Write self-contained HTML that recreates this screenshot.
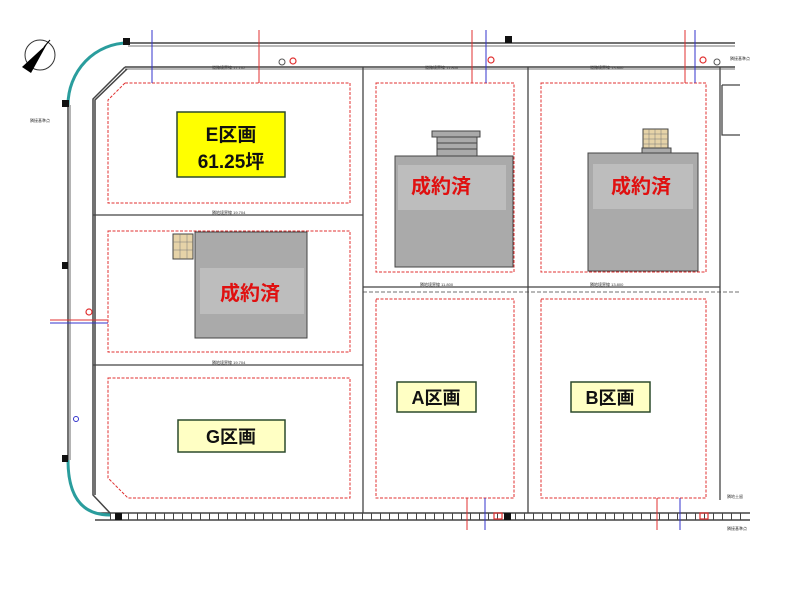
<!DOCTYPE html>
<html><head><meta charset="utf-8"><style>
html,body{margin:0;padding:0;background:#fff;width:800px;height:600px;overflow:hidden}
svg{display:block}
.t{font-family:"Liberation Sans","Noto Sans CJK JP",sans-serif;font-weight:bold}
</style></head><body>
<svg width="800" height="600" viewBox="0 0 800 600" xmlns="http://www.w3.org/2000/svg">
<!-- compass -->
<circle cx="40" cy="55" r="15" fill="#fff" stroke="#333" stroke-width="1"/>
<polygon points="22,67 47,44 31,73" fill="#000"/>
<line x1="44" y1="47" x2="50" y2="40" stroke="#000"/>
<!-- outer road lines -->
<g fill="none" stroke="#444" stroke-width="1.5">
<line x1="128" y1="43" x2="735" y2="43"/>
<line x1="128" y1="46" x2="735" y2="46" stroke-width="0.8"/>
<line x1="125" y1="67" x2="735" y2="67"/>
<line x1="125" y1="69" x2="735" y2="69" stroke-width="0.8"/>
<polyline points="125,67 93,99 93,495 110,513"/>
<polyline points="127,69 95,100 95,495"/>
<line x1="68" y1="105" x2="68" y2="460"/>
<line x1="70" y1="105" x2="70" y2="460" stroke-width="0.8"/>
<line x1="95" y1="513" x2="750" y2="513"/>
<line x1="95" y1="520" x2="750" y2="520"/>
</g>
<line x1="110" y1="516.5" x2="745" y2="516.5" stroke="#444" stroke-width="7" stroke-dasharray="1 8"/>
<!-- teal curves -->
<path d="M68,105 A60,62 0 0 1 128,43" fill="none" stroke="#2a9d9d" stroke-width="3"/>
<path d="M68,460 Q68,515 110,515" fill="none" stroke="#2a9d9d" stroke-width="3"/>
<rect x="123" y="38" width="7" height="7" fill="#111"/>
<rect x="62" y="100" width="7" height="7" fill="#111"/>
<rect x="62" y="262" width="6" height="7" fill="#111"/>
<rect x="62" y="455" width="6" height="7" fill="#111"/>
<rect x="115" y="513" width="7" height="7" fill="#111"/>
<rect x="505" y="36" width="7" height="7" fill="#111"/>
<rect x="504" y="513" width="7" height="7" fill="#111"/>
<!-- lot dividers -->
<g stroke="#444" stroke-width="1.3" fill="none">
<line x1="363" y1="67" x2="363" y2="513"/>
<line x1="528" y1="67" x2="528" y2="513"/>
<line x1="720" y1="67" x2="720" y2="500"/>
<line x1="93" y1="215" x2="363" y2="215"/>
<line x1="93" y1="365" x2="363" y2="365"/>
<line x1="363" y1="287" x2="720" y2="287"/>
<line x1="363" y1="292" x2="740" y2="292" stroke-dasharray="4 2" stroke-width="0.8"/>
<polyline points="722,85 740,85"/><polyline points="722,85 722,135 740,135"/>
</g>
<!-- red dashed lots -->
<g fill="none" stroke="#e03030" stroke-width="1" stroke-dasharray="3 1.5">
<polygon points="125,83 350,83 350,203 108,203 108,100"/>
<rect x="108" y="231" width="242" height="121"/>
<polygon points="108,378 350,378 350,498 128,498 108,478"/>
<rect x="376" y="83" width="138" height="189"/>
<rect x="541" y="83" width="165" height="189"/>
<rect x="376" y="299" width="138" height="199"/>
<rect x="541" y="299" width="165" height="199"/>
</g>
<!-- utility lines -->
<g stroke-width="1">
<line x1="152" y1="30" x2="152" y2="83" stroke="#3333cc"/>
<line x1="259" y1="30" x2="259" y2="83" stroke="#e03030"/>
<line x1="472" y1="30" x2="472" y2="83" stroke="#e03030"/>
<line x1="486" y1="30" x2="486" y2="83" stroke="#3333cc"/>
<line x1="685" y1="30" x2="685" y2="83" stroke="#e03030"/>
<line x1="695" y1="30" x2="695" y2="83" stroke="#3333cc"/>
<line x1="50" y1="320" x2="108" y2="320" stroke="#e03030"/>
<line x1="50" y1="323" x2="108" y2="323" stroke="#3333cc"/>
<line x1="467" y1="498" x2="467" y2="530" stroke="#e03030"/>
<line x1="485" y1="498" x2="485" y2="530" stroke="#3333cc"/>
<line x1="657" y1="498" x2="657" y2="530" stroke="#e03030"/>
<line x1="680" y1="498" x2="680" y2="530" stroke="#3333cc"/>
</g>
<g fill="none" stroke="#e03030" stroke-width="1.2">
<circle cx="293" cy="61" r="3"/><circle cx="491" cy="60" r="3"/><circle cx="703" cy="60" r="3"/><circle cx="89" cy="312" r="3"/>
<rect x="494" y="513" width="8" height="6"/><rect x="700" y="513" width="8" height="6"/>
</g>
<g fill="none" stroke="#555" stroke-width="1"><circle cx="282" cy="62" r="3"/><circle cx="717" cy="62" r="3"/><circle cx="76" cy="419" r="2.5" stroke="#33c"/></g>
<!-- buildings -->
<g stroke="#444" stroke-width="1">
<rect x="432" y="131" width="48" height="6" fill="#aaa"/>
<rect x="437" y="137" width="40" height="19" fill="#aaa"/>
<line x1="437" y1="143" x2="477" y2="143"/><line x1="437" y1="149" x2="477" y2="149"/>
<rect x="395" y="156" width="118" height="111" fill="#aaa"/>
<rect x="643" y="129" width="25" height="20" fill="#e6d3a8"/>
<rect x="642" y="148" width="29" height="5" fill="#aaa"/>
<rect x="588" y="153" width="110" height="118" fill="#aaa"/>
<rect x="173" y="234" width="20" height="25" fill="#e6d3a8"/>
<rect x="195" y="232" width="112" height="106" fill="#aaa"/>
</g>
<g stroke="#777" stroke-width="0.5">
<line x1="649" y1="129" x2="649" y2="148"/><line x1="655" y1="129" x2="655" y2="148"/><line x1="661" y1="129" x2="661" y2="148"/>
<line x1="643" y1="134" x2="668" y2="134"/><line x1="643" y1="139" x2="668" y2="139"/><line x1="643" y1="144" x2="668" y2="144"/>
<line x1="180" y1="234" x2="180" y2="259"/><line x1="187" y1="234" x2="187" y2="259"/>
<line x1="173" y1="242" x2="193" y2="242"/><line x1="173" y1="250" x2="193" y2="250"/>
</g>
<rect x="398" y="165" width="108" height="45" fill="#bdbdbd"/>
<rect x="593" y="164" width="100" height="45" fill="#bdbdbd"/>
<rect x="200" y="268" width="104" height="46" fill="#bdbdbd"/>
<g class="t" fill="#e01010" font-size="20" text-anchor="middle">
<text x="441" y="193">成約済</text>
<text x="641" y="193">成約済</text>
<text x="250" y="300">成約済</text>
</g>
<!-- labels -->
<rect x="177" y="112" width="108" height="65" fill="#ffff00" stroke="#2c4a2c" stroke-width="1.5"/>
<g class="t" fill="#111" font-size="19" text-anchor="middle">
<text x="231" y="141">E区画</text>
<text x="231" y="168">61.25坪</text>
</g>
<rect x="397" y="382" width="79" height="30" fill="#ffffc4" stroke="#2c4a2c" stroke-width="1.5"/>
<rect x="571" y="382" width="79" height="30" fill="#ffffc4" stroke="#2c4a2c" stroke-width="1.5"/>
<rect x="178" y="420" width="107" height="32" fill="#ffffc4" stroke="#2c4a2c" stroke-width="1.5"/>
<g class="t" fill="#111" font-size="18" text-anchor="middle">
<text x="436" y="404">A区画</text>
<text x="610" y="404">B区画</text>
<text x="231" y="443">G区画</text>
</g>
<!-- tiny annotations -->
<g font-family="Liberation Sans, sans-serif" font-size="4" fill="#333">
<text x="212" y="69">道路境界線 17.102</text>
<text x="425" y="69">道路境界線 11.800</text>
<text x="590" y="69">道路境界線 13.800</text>
<text x="212" y="214">隣地境界線 19.704</text>
<text x="212" y="364">隣地境界線 19.704</text>
<text x="420" y="286">隣地境界線 11.800</text>
<text x="590" y="286">隣地境界線 13.800</text>
<text x="730" y="60">隣接基準点</text>
<text x="30" y="122">隣接基準点</text>
<text x="727" y="498">隣地土留</text>
<text x="727" y="530">隣接基準点</text>
</g>
</svg>
</body></html>
